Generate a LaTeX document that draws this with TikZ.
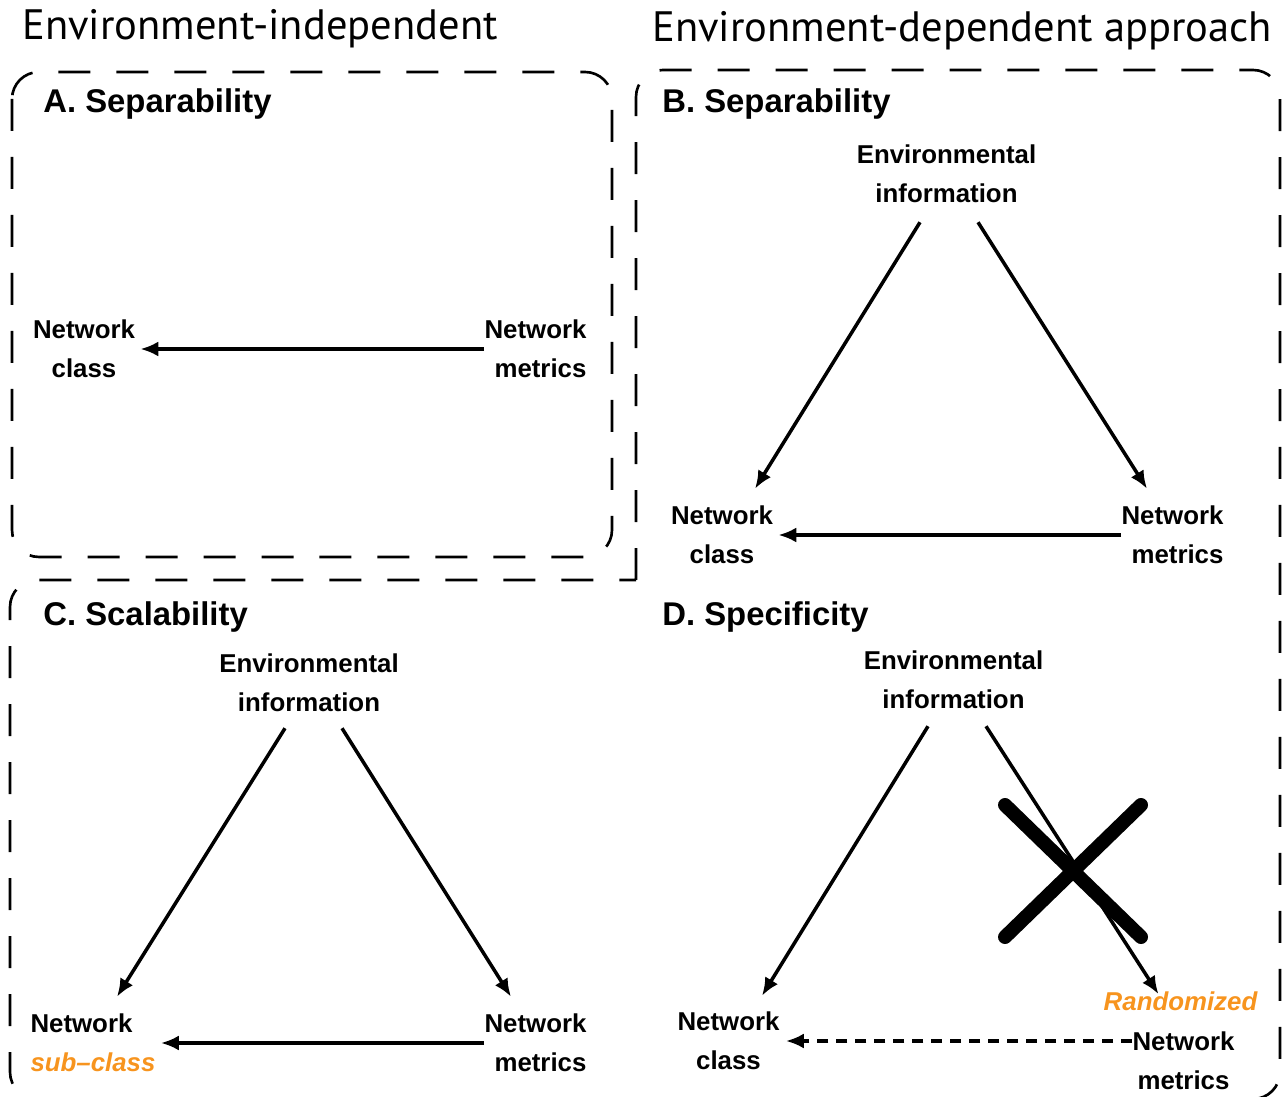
\documentclass[tikz,border=0pt]{standalone}
\usepackage{fontspec}
\setmainfont{Liberation Sans}
\newfontfamily\headfont{PT Sans}
\usetikzlibrary{calc,arrows.meta}
\definecolor{randorange}{RGB}{247,148,30}

\begin{document}
\begin{tikzpicture}[x=0.02cm,y=-0.02cm,
  lbl/.style={font=\bfseries\fontsize{14.7}{22.1}\selectfont,inner sep=0pt},
  ttl/.style={font=\bfseries\fontsize{18.7}{22}\selectfont,inner sep=0pt,anchor=base west},
  hdr/.style={font=\headfont\fontsize{24.2}{28}\selectfont,inner sep=0pt,anchor=base west},
  frame/.style={line width=1.5pt,dash pattern=on 0.64cm off 0.52cm,rounded corners=0.54cm},
  link/.style={-{Latex[length=0.36cm,width=0.3cm]},line width=2pt}]
\useasboundingbox (0,0) rectangle (1288,1097);
% headings and frames
\node[hdr] (hind) at (22,40) {Environment-independent};
\node[hdr] (hdep) at (652,42) {Environment-dependent approach};
\draw[frame] (12,72) rectangle (612,557);
\draw[frame] (636,580) -- (636,70) -- (1280,70) -- (1280,1099) -- (10,1099) -- (10,580) -- (636,580);
% A
\node[ttl] (atitle) at (43,113) {A. Separability};
\node[lbl,align=center] (aclass) at (84,349) {Network\\class};
\node[lbl,align=right] (ametrics) at (535.5,349) {Network\\metrics};
\draw[link,shorten >=0.1cm] (ametrics) -- (aclass);
% B
\node[ttl] (btitle) at (662,113) {B. Separability};
\node[lbl,align=center] (benv) at (946.5,174) {Environmental\\information};
\node[lbl,align=center] (bclass) at (722,535) {Network\\class};
\node[lbl,align=right] (bmetrics) at (1172.5,535) {Network\\metrics};
\draw[link] ($(benv.south)+(-26.5,19)$) -- ($(bclass.north)+(33,-17)$);
\draw[link] ($(benv.south)+(31.5,19)$) -- ($(bmetrics.north)+(-25.5,-17)$);
\draw[link,shorten >=0.1cm] (bmetrics) -- (bclass);
% C
\node[ttl] (ctitle) at (43,626) {C. Scalability};
\node[lbl,align=center] (cenv) at (309,683) {Environmental\\information};
\node[lbl,align=left] (cclass) at (93,1043) {Network\\\textcolor{randorange}{\itshape sub–class}};
\node[lbl,align=right] (cmetrics) at (535.5,1043) {Network\\metrics};
\draw[link] ($(cenv.south)+(-24,16)$) -- ($(cclass.north)+(24,-17)$);
\draw[link] ($(cenv.south)+(33,16)$) -- ($(cmetrics.north)+(-24.5,-17)$);
\draw[link,shorten >=0.1cm] (cmetrics) -- (cclass);
% D
\node[ttl] (dtitle) at (662,626) {D. Specificity};
\node[lbl,align=center] (denv) at (953.5,680) {Environmental\\information};
\node[lbl,align=center] (dclass) at (728.5,1041) {Network\\class};
\node[lbl,text=randorange,font=\bfseries\itshape\fontsize{14.7}{22.1}\selectfont] (drand) at (1180.5,1001) {Randomized};
\node[lbl,align=center] (dmetrics) at (1183.5,1061) {Network\\metrics};
\draw[link] ($(denv.south)+(-25.5,17)$) -- ($(dclass.north)+(33.5,-16)$);
\draw[link] ($(denv.south)+(32.5,17)$) -- ($(drand.north)+(-22,3)$);
\draw[link,dash pattern=on 0.22cm off 0.16cm,shorten >=0.12cm] (dmetrics.west |- dclass) -- (dclass);
\draw[line width=0.28cm,line cap=round] (1005,805) -- (1141,937) (1141,805) -- (1005,937);
\end{tikzpicture}
\end{document}
